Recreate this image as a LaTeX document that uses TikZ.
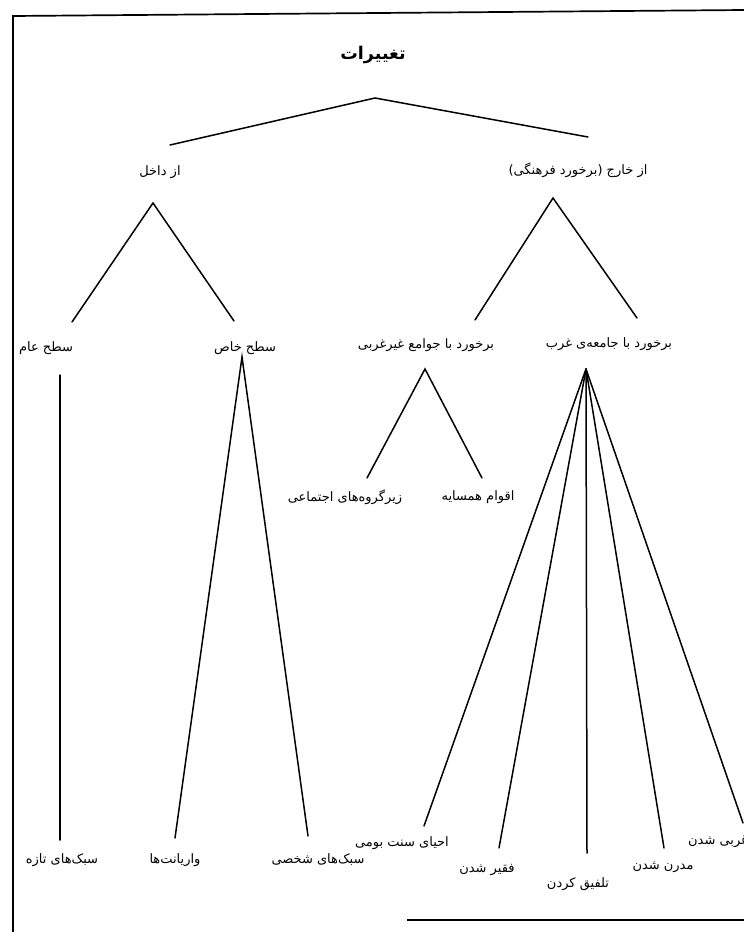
\documentclass[tikz,border=0pt]{standalone}
\usepackage{fontspec}
\newfontfamily\fa[Script=Arabic]{DejaVu Sans}
\TeXXeTstate=1
\begin{document}
\begin{tikzpicture}[x=1pt,y=-1pt,
  lbl/.style={font=\fa\fontsize{13}{15}\selectfont, inner sep=0pt},
  ttl/.style={font=\fa\bfseries\fontsize{17.5}{19}\selectfont, inner sep=0pt},
  edge/.style={line width=1.5pt, line cap=round},
  frame/.style={line width=1.7pt}]
\useasboundingbox (0,0) rectangle (744,932);
% frame
\coordinate (fbl) at (13,932);
\coordinate (ftl) at (13,16);
\coordinate (ftr) at (744,10);
\coordinate (fb1) at (407,920);
\coordinate (fb2) at (744,920);
\draw[frame] (fbl) -- (ftl) -- (ftr);
\draw[frame] (fb1) -- (fb2);
% labels
\node[ttl] (root) at (373,55) {\beginR تغییرات\endR};
\node[lbl] (in) at (160,172) {\beginR از داخل\endR};
\node[lbl] (out) at (578,170) {\beginR از خارج (برخورد فرهنگی)\endR};
\node[lbl] (gen) at (46,348) {\beginR سطح عام\endR};
\node[lbl] (spec) at (245,348) {\beginR سطح خاص\endR};
\node[lbl] (nonw) at (426,345) {\beginR برخورد با جوامع غیرغربی\endR};
\node[lbl] (west) at (609,344) {\beginR برخورد با جامعه‌ی غرب\endR};
\node[lbl] (sub) at (345,497) {\beginR زیرگروه‌های اجتماعی\endR};
\node[lbl] (neigh) at (478,497) {\beginR اقوام همسایه\endR};
\node[lbl] (fresh) at (62,860) {\beginR سبک‌های تازه\endR};
\node[lbl] (var) at (175,860) {\beginR واریانت‌ها\endR};
\node[lbl] (pers) at (318,860) {\beginR سبک‌های شخصی\endR};
\node[lbl] (rev) at (402,843) {\beginR احیای سنت بومی\endR};
\node[lbl] (poor) at (487,870) {\beginR فقیر شدن\endR};
\node[lbl] (synth) at (578,884) {\beginR تلفیق کردن\endR};
\node[lbl] (mod) at (663,867) {\beginR مدرن شدن\endR};
\begin{scope}
\clip (0,0) rectangle (744,932);
\node[lbl, anchor=west] (wz) at (688,842) {\beginR غربی شدن\endR};
\end{scope}
% connector points
\coordinate (rA) at (375,98);
\coordinate (rL) at (170,145);
\coordinate (rR) at (588,137);
\coordinate (iA) at (153,203);
\coordinate (iL) at (72,322);
\coordinate (iR) at (234,321);
\coordinate (oA) at (553,198);
\coordinate (oL) at (475,320);
\coordinate (oR) at (637,318);
\coordinate (gT) at (60,375);
\coordinate (gB) at (60,840);
\coordinate (sA) at (242,357);
\coordinate (sL) at (175,838);
\coordinate (sR) at (308,836);
\coordinate (nA) at (425,369);
\coordinate (nL) at (367,478);
\coordinate (nR) at (482,478);
\coordinate (wA) at (586,369);
\coordinate (w1) at (424,826);
\coordinate (w2) at (499,848);
\coordinate (w3) at (587,853);
\coordinate (w4) at (664,848);
\coordinate (w5) at (743,823);
% connectors
\draw[edge] (rL) -- (rA) -- (rR);
\draw[edge] (iL) -- (iA) -- (iR);
\draw[edge] (oL) -- (oA) -- (oR);
\draw[edge] (gT) -- (gB);
\draw[edge] (sL) -- (sA) -- (sR);
\draw[edge] (nL) -- (nA) -- (nR);
\foreach \e in {w1,w2,w3,w4,w5} \draw[edge] (wA) -- (\e);
\end{tikzpicture}
\end{document}
